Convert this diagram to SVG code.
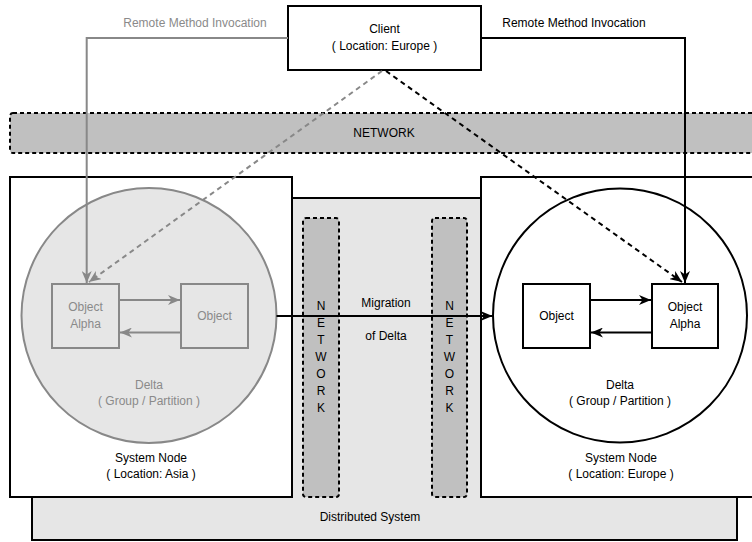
<svg xmlns="http://www.w3.org/2000/svg" width="752" height="542" viewBox="0 0 752 542">
  <defs>
    <marker id="arrowBlack" viewBox="0 0 12 10" refX="12" refY="5" markerWidth="12" markerHeight="10" markerUnits="userSpaceOnUse" orient="auto">
      <path d="M0,0 L12,5 L0,10 L3.5,5 Z" fill="#000"/>
    </marker>
    <marker id="arrowGray" viewBox="0 0 12 10" refX="12" refY="5" markerWidth="12" markerHeight="10" markerUnits="userSpaceOnUse" orient="auto">
      <path d="M0,0 L12,5 L0,10 L3.5,5 Z" fill="#888"/>
    </marker>
    <style>
      text { font-family: "Liberation Sans", Arial, sans-serif; font-size: 12px; fill: #000; text-anchor: middle; }
      text.dim { fill: #8a8a8a; }
      .box { fill: #fff; stroke: #000; stroke-width: 2; }
      .boxDim { fill: #e6e6e6; stroke: #888; stroke-width: 2; }
      .net { fill: #c0c0c0; stroke: #000; stroke-width: 2; stroke-dasharray: 4 3; }
      .line { fill: none; stroke: #000; stroke-width: 2; }
      .lineDim { fill: none; stroke: #888; stroke-width: 2; }
      .dashed { stroke-dasharray: 5 4; }
    </style>
  </defs>

  <!-- wide-area network band -->
  <g id="network-band">
    <rect class="net" x="10" y="113" width="752" height="40" rx="3"/>
    <text x="384" y="137">NETWORK</text>
  </g>

  <!-- client -->
  <g id="client">
    <rect class="box" x="288" y="6" width="193" height="64"/>
    <text x="384.5" y="33">Client</text>
    <text x="384.5" y="50">( Location: Europe )</text>
  </g>

  <!-- distributed system container -->
  <g id="distributed-system">
    <rect x="32" y="198" width="705" height="342" fill="#e6e6e6" stroke="#000" stroke-width="2"/>
    <text x="370" y="521">Distributed System</text>
  </g>

  <!-- network columns between nodes -->
  <g id="network-left">
    <rect class="net" x="303" y="218" width="36" height="279" rx="3"/>
    <text x="321" y="310">N</text>
    <text x="321" y="327">E</text>
    <text x="321" y="344">T</text>
    <text x="321" y="361">W</text>
    <text x="321" y="378">O</text>
    <text x="321" y="395">R</text>
    <text x="321" y="412">K</text>
  </g>
  <g id="network-right">
    <rect class="net" x="432" y="218" width="35" height="279" rx="3"/>
    <text x="449.5" y="310">N</text>
    <text x="449.5" y="327">E</text>
    <text x="449.5" y="344">T</text>
    <text x="449.5" y="361">W</text>
    <text x="449.5" y="378">O</text>
    <text x="449.5" y="395">R</text>
    <text x="449.5" y="412">K</text>
  </g>

  <!-- system node: Asia -->
  <g id="node-asia">
    <rect class="box" x="10" y="177" width="282" height="320"/>
    <text x="151" y="462">System Node</text>
    <text x="151" y="478">( Location: Asia )</text>
  </g>

  <!-- system node: Europe -->
  <g id="node-europe">
    <rect class="box" x="481" y="177" width="290" height="320"/>
    <text x="621" y="462">System Node</text>
    <text x="621" y="478">( Location: Europe )</text>
  </g>

  <!-- delta before migration -->
  <g id="delta-asia">
    <circle class="boxDim" cx="149" cy="315.5" r="127.5"/>
    <text class="dim" x="149" y="389">Delta</text>
    <text class="dim" x="149" y="405">( Group / Partition )</text>
  </g>
  <g id="alpha-asia">
    <rect class="boxDim" x="52" y="284" width="67" height="64"/>
    <text class="dim" x="85.5" y="311">Object</text>
    <text class="dim" x="85.5" y="328">Alpha</text>
  </g>
  <g id="object-asia">
    <rect class="boxDim" x="181" y="284" width="67" height="64"/>
    <text class="dim" x="214.5" y="320">Object</text>
  </g>

  <!-- delta after migration -->
  <g id="delta-europe">
    <circle cx="620" cy="315.5" r="127" fill="#fff" stroke="#000" stroke-width="2"/>
    <text x="620" y="389">Delta</text>
    <text x="620" y="405">( Group / Partition )</text>
  </g>
  <g id="object-europe">
    <rect class="box" x="523" y="284" width="67" height="64"/>
    <text x="556.5" y="320">Object</text>
  </g>
  <g id="alpha-europe">
    <rect class="box" x="652" y="284" width="66" height="64"/>
    <text x="685" y="311">Object</text>
    <text x="685" y="328">Alpha</text>
  </g>

  <!-- connectors -->
  <g id="connectors">
    <!-- invocations from the client -->
    <path class="lineDim" d="M288,38 H86.7 V283" marker-end="url(#arrowGray)"/>
    <path class="line" d="M481,38 H685 V283" marker-end="url(#arrowBlack)"/>
    <path class="lineDim dashed" d="M382,71 L89,282" marker-end="url(#arrowGray)"/>
    <path class="line dashed" d="M386,71 L682,282" marker-end="url(#arrowBlack)"/>
    <text class="dim" x="195" y="27">Remote Method Invocation</text>
    <text x="574" y="27">Remote Method Invocation</text>

    <!-- object links inside each delta -->
    <path class="lineDim" d="M119,300 H180" marker-end="url(#arrowGray)"/>
    <path class="lineDim" d="M181,332.5 H120" marker-end="url(#arrowGray)"/>
    <path class="line" d="M590,300 H651" marker-end="url(#arrowBlack)"/>
    <path class="line" d="M652,332.5 H591" marker-end="url(#arrowBlack)"/>

    <!-- migration -->
    <path class="line" d="M276.5,316 H492.5" marker-end="url(#arrowBlack)"/>
    <text x="386" y="307">Migration</text>
    <text x="386" y="340">of Delta</text>
  </g>
</svg>
